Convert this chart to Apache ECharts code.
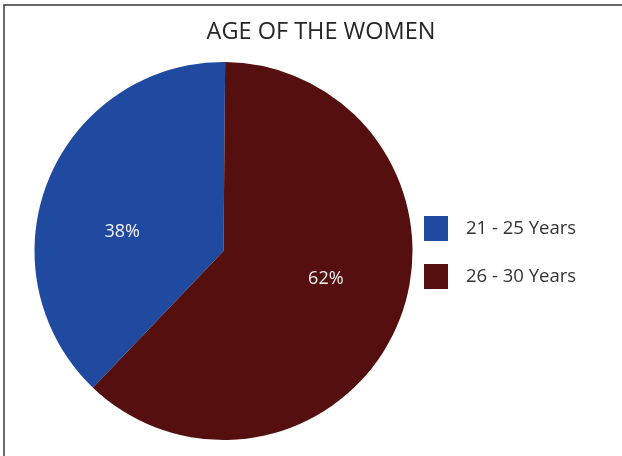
<!DOCTYPE html>
<html><head><meta charset="utf-8">
<script src="https://cdn.jsdelivr.net/npm/echarts@6/dist/echarts.min.js"></script>
<style>html,body{margin:0;padding:0;background:#fff}#c{width:622px;height:456px}</style>
</head><body><div id="c"></div>
<script>
const titleText = "AGE OF THE WOMEN";
const categories = ["21 - 25 Years", "26 - 30 Years"];
const values = [38, 62];
const colors = ["#1f4a9f", "#550f0f"];
const labelOffsets = [[-11, 18], [12, -9]];

const chart = echarts.init(document.getElementById('c'), null, {renderer: 'canvas'});
chart.setOption({
  animation: false,
  backgroundColor: '#fff',
  title: {
    text: titleText, left: 316, top: 15, textAlign: 'center',
    textStyle: {fontFamily: 'Open Sans', fontWeight: 'normal', fontSize: 23.5, color: '#262626'}
  },
  graphic: [{
    type: 'rect', shape: {x: 4, y: 5, width: 800, height: 700},
    style: {fill: 'none', stroke: '#3a3a3a', lineWidth: 1.5}, silent: true
  }],
  legend: {
    orient: 'vertical', left: 424, top: 216, padding: 0, itemWidth: 24, itemHeight: 25, itemGap: 23,
    icon: 'rect', data: categories,
    textStyle: {fontFamily: 'Open Sans', fontSize: 18.5, color: '#333', padding: [0, 0, 0, 13]}
  },
  series: [{
    type: 'pie', center: [223.5, 251], radius: 189, clockwise: false, startAngle: 89.5,
    avoidLabelOverlap: false,
    itemStyle: {borderWidth: 0},
    label: {position: 'inside', formatter: '{c}%', fontFamily: 'Open Sans', fontSize: 18, color: '#f2f2f2'},
    labelLine: {show: false},
    data: categories.map((n, i) => ({
      name: n, value: values[i], itemStyle: {color: colors[i]},
      label: {offset: labelOffsets[i]}
    }))
  }]
});
</script></body></html>
